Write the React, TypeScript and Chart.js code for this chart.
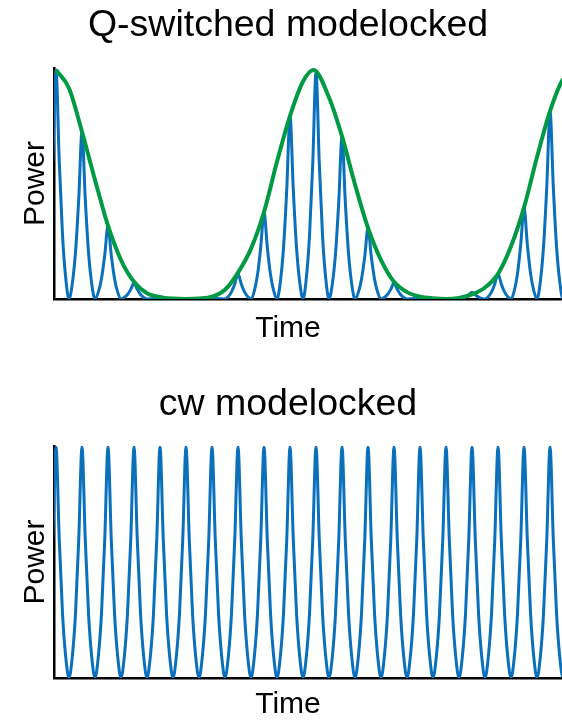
import React, { useEffect, useRef } from "react";
import { Chart, registerables } from "chart.js";

Chart.register(...registerables);

// ---- data ----
const pulseIndex = [0, 1, 2, 3, 4, 5, 6, 7, 8, 9, 10, 11, 12, 13, 14, 15, 16, 17, 18, 19, 20];
const qsPeaks = [1.0, 0.73, 0.32, 0.07, 0.01, 0.0, 0.01, 0.11, 0.38, 0.8, 0.99, 0.71, 0.31, 0.07, 0.01, 0.0, 0.03, 0.11, 0.4, 0.82, 0.99];
const cwPeaks = [1, 1, 1, 1, 1, 1, 1, 1, 1, 1, 1, 1, 1, 1, 1, 1, 1, 1, 1, 1, 1];
// shape of one pulse (offset in pulse periods, relative power)
const profileOffsets = [-0.5, -0.375, -0.25, -0.125, 0, 0.125, 0.25, 0.375];
const profileValues = [0, 0.09, 0.28, 0.6, 1, 0.6, 0.28, 0.09];
// Q-switch envelope (green)
const envelopeTimes = [0, 0.5, 1, 1.5, 2, 2.5, 3, 3.5, 4, 4.5, 5, 5.5, 6, 6.5, 7, 7.5, 8, 8.5, 9, 9.5, 9.9, 10.5, 11, 11.5, 12, 12.5, 13, 13.5, 14, 14.5, 15, 15.5, 16, 16.5, 17, 17.5, 18, 18.5, 19, 19.5, 20];
const envelopeValues = [1.0, 0.92, 0.73, 0.52, 0.32, 0.17, 0.075, 0.025, 0.008, 0.002, 0.0, 0.002, 0.01, 0.04, 0.115, 0.22, 0.38, 0.6, 0.8, 0.95, 1.0, 0.88, 0.71, 0.5, 0.31, 0.17, 0.075, 0.03, 0.01, 0.003, 0.0, 0.005, 0.02, 0.05, 0.11, 0.23, 0.4, 0.62, 0.82, 0.96, 1.0];

const timeRange = [-0.077, 19.46];
const titleTop = "Q-switched modelocked";
const titleBottom = "cw modelocked";
const xLabel = "Time";
const yLabel = "Power";

const BLUE = "#0a70bb";
const GREEN = "#009944";
const FONT = "'Liberation Sans', Arial, Helvetica, sans-serif";

function pulseTrain(peaks: number[]) {
  const pts: { x: number; y: number }[] = [];
  pulseIndex.forEach((k, i) => {
    profileOffsets.forEach((o, j) => {
      pts.push({ x: k + o, y: peaks[i] * profileValues[j] });
    });
  });
  pts.push({ x: pulseIndex[pulseIndex.length - 1] + 0.5, y: 0 });
  return pts;
}

function makeConfig(
  title: string,
  datasets: any[],
  titlePad: { top: number; bottom: number },
  subPad: { top: number; bottom: number },
  yMax: number
): any {
  const axisBorder = { display: true, color: "#000", width: 2.5 };
  return {
    type: "line",
    data: { datasets },
    options: {
      animation: false,
      responsive: false,
      maintainAspectRatio: false,
      layout: { padding: { left: 14, right: 0, top: 0, bottom: 0 } },
      elements: { point: { radius: 0 } },
      plugins: {
        legend: { display: false },
        tooltip: { enabled: false },
        title: {
          display: true,
          text: title,
          color: "#000",
          font: { family: FONT, size: 37.5, weight: "normal", lineHeight: 1.2 },
          padding: titlePad,
        },
        subtitle: {
          display: true,
          position: "bottom",
          text: xLabel,
          color: "#000",
          font: { family: FONT, size: 30, weight: "normal", lineHeight: 1.2 },
          padding: subPad,
        },
      },
      scales: {
        x: {
          type: "linear",
          min: timeRange[0],
          max: timeRange[1],
          grid: { display: false, drawTicks: false },
          ticks: { display: false },
          border: axisBorder,
        },
        y: {
          type: "linear",
          min: 0,
          max: yMax,
          grid: { display: false, drawTicks: false },
          ticks: { display: false },
          border: axisBorder,
          title: {
            display: true,
            text: yLabel,
            color: "#000",
            font: { family: FONT, size: 30, weight: "normal", lineHeight: 1.2 },
            padding: { top: 4, bottom: 0 },
          },
        },
      },
    },
  };
}

function Panel({ config, top, height }: { config: any; top: number; height: number }) {
  const ref = useRef<HTMLCanvasElement | null>(null);
  useEffect(() => {
    if (!ref.current) return;
    const chart = new Chart(ref.current, config);
    return () => chart.destroy();
  }, [config]);
  return (
    <canvas
      ref={ref}
      width={562}
      height={height}
      style={{ position: "absolute", left: 0, top, width: 562, height, display: "block" }}
    />
  );
}

const topConfig = makeConfig(
  titleTop,
  [
    {
      data: envelopeTimes.map((t, i) => ({ x: t, y: envelopeValues[i] })),
      borderColor: GREEN,
      borderWidth: 4,
      cubicInterpolationMode: "monotone",
      fill: false,
    },
    {
      data: pulseTrain(qsPeaks),
      borderColor: BLUE,
      borderWidth: 3,
      cubicInterpolationMode: "monotone",
      fill: false,
    },
  ],
  { top: 3.5, bottom: 19.5 },
  { top: 12, bottom: 11 },
  1.0087
);

const bottomConfig = makeConfig(
  titleBottom,
  [
    {
      data: pulseTrain(cwPeaks),
      borderColor: BLUE,
      borderWidth: 3,
      cubicInterpolationMode: "monotone",
      fill: false,
    },
  ],
  { top: 22, bottom: 19 },
  { top: 9, bottom: 7 },
  1.004
);

export default function App() {
  return (
    <div
      style={{
        position: "absolute",
        left: 0,
        top: 0,
        width: 562,
        height: 721,
        overflow: "hidden",
        background: "#fff",
      }}
    >
      <Panel config={topConfig} top={0} height={358} />
      <Panel config={bottomConfig} top={360} height={370} />
    </div>
  );
}
